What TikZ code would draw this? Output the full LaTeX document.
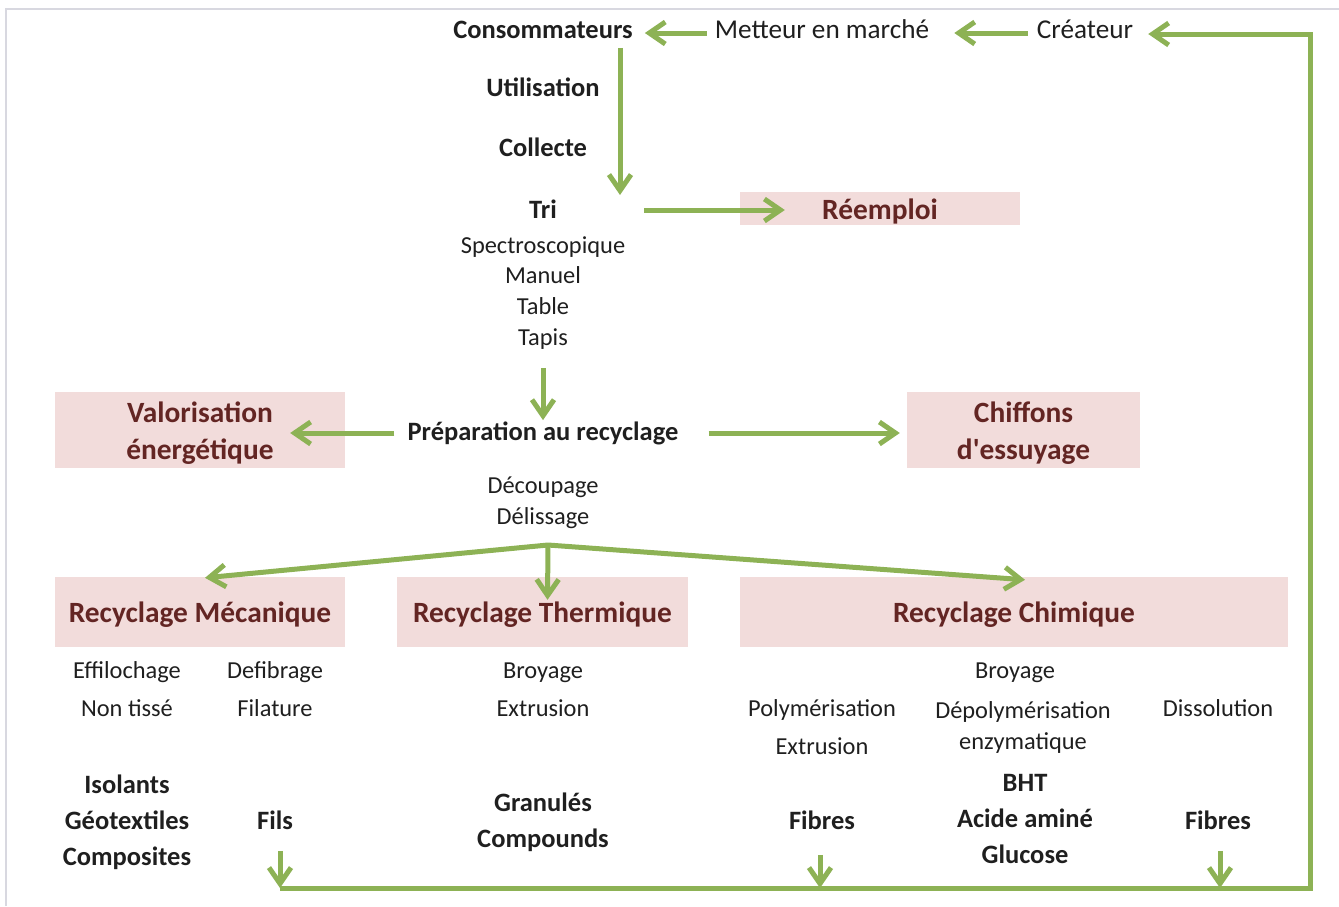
\documentclass[tikz,border=0pt]{standalone}
\usepackage{fontspec}
\setmainfont{Carlito}
\usetikzlibrary{positioning,arrows.meta}

\definecolor{arrowgreen}{HTML}{8DB255}
\definecolor{boxpink}{HTML}{F2DCDB}
\definecolor{boxtext}{HTML}{632523}
\definecolor{frameline}{HTML}{D8D8E0}

\newcommand{\boxline}[1]{\raisebox{-3pt}[\height][\depth]{#1}}

\begin{document}
\begin{tikzpicture}[x=1pt, y=-1pt,
                    stepnode/.style={font=\fontsize{26.5}{30}\selectfont\bfseries, text=black!88, inner sep=0pt, text height=0.72em, text depth=0.22em, yshift=-6},
                    actornode/.style={font=\fontsize{27.2}{30}\selectfont, text=black!88, inner sep=0pt, text height=0.72em, text depth=0.22em, yshift=-6},
                    detailnode/.style={font=\fontsize{24.4}{30}\selectfont, text=black!88, inner sep=0pt, text height=0.72em, text depth=0.22em, yshift=-6},
                    boxnode/.style={fill=boxpink, text=boxtext, font=\fontsize{29.4}{37}\selectfont\bfseries, align=center, inner sep=0pt},
                    flow/.style={draw=arrowgreen, line width=5pt, -{Straight Barb[length=16pt, width=22pt]}},
                ]
                    \useasboundingbox (0,0) rectangle (1339,906);
                    \draw[frameline, line width=2pt] (6,906) -- (6,9) -- (1339,9);

                    %Nodes
                    \node[stepnode](conso) at (543,30) {Consommateurs};
                    \node[actornode](metteur) at (822,30) {Metteur en marché};
                    \node[actornode](createur) at (1085,30) {Créateur};
                    \node[stepnode](utilisation) at (543,88) {Utilisation};
                    \node[stepnode](collecte) at (543,148) {Collecte};
                    \node[stepnode](tri) at (543,210) {Tri};
                    \node[detailnode](spectro) at (543,245) {Spectroscopique};
                    \node[detailnode](manuel) at (543,275) {Manuel};
                    \node[detailnode](table) at (543,306) {Table};
                    \node[detailnode](tapis) at (543,337) {Tapis};
                    \node[stepnode](prep) at (543,432) {Préparation au recyclage};
                    \node[detailnode](decoupage) at (543,485) {Découpage};
                    \node[detailnode](delissage) at (543,516) {Délissage};

                    \node[boxnode, minimum width=280, minimum height=33](reemploi) at (880,208.5) {\boxline{Réemploi}};
                    \node[boxnode, minimum width=290, minimum height=76](valo) at (200,430) {\boxline{Valorisation}\\\boxline{énergétique}};
                    \node[boxnode, minimum width=233, minimum height=76](chiffons) at (1023.5,430) {\boxline{Chiffons}\\\boxline{d\textquotesingle essuyage}};
                    \node[boxnode, minimum width=290, minimum height=70](meca) at (200,612) {\boxline{Recyclage Mécanique}};
                    \node[boxnode, minimum width=291, minimum height=70](thermo) at (542.5,612) {\boxline{Recyclage Thermique}};
                    \node[boxnode, minimum width=548, minimum height=70](chimique) at (1014,612) {\boxline{Recyclage Chimique}};

                    \node[detailnode](effilochage) at (127,670) {Effilochage};
                    \node[detailnode](defibrage) at (275,670) {Defibrage};
                    \node[detailnode](nontisse) at (127,708) {Non tissé};
                    \node[detailnode](filature) at (275,708) {Filature};
                    \node[detailnode](broyagea) at (543,670) {Broyage};
                    \node[detailnode](extrusiona) at (543,708) {Extrusion};
                    \node[detailnode](broyageb) at (1015,670) {Broyage};
                    \node[detailnode](polym) at (822,708) {Polymérisation};
                    \node[detailnode](extrusionb) at (822,746) {Extrusion};
                    \node[detailnode](depolym) at (1023,710) {Dépolymérisation};
                    \node[detailnode](enzym) at (1023,741) {enzymatique};
                    \node[detailnode](dissolution) at (1218,708) {Dissolution};

                    \node[stepnode](isolants) at (127,785) {Isolants};
                    \node[stepnode](geotextiles) at (127,821) {Géotextiles};
                    \node[stepnode](composites) at (127,857) {Composites};
                    \node[stepnode](fils) at (275,821) {Fils};
                    \node[stepnode](granules) at (543,803) {Granulés};
                    \node[stepnode](compounds) at (543,839) {Compounds};
                    \node[stepnode](fibresa) at (822,821) {Fibres};
                    \node[stepnode](bht) at (1025,783) {BHT};
                    \node[stepnode](acide) at (1025,819) {Acide aminé};
                    \node[stepnode](glucose) at (1025,855) {Glucose};
                    \node[stepnode](fibresb) at (1218,821) {Fibres};

                    \coordinate (tridown) at (620,195);
                    \coordinate (branch) at (548,545);
                    \coordinate (loopleft) at (280,888);
                    \coordinate (loopright) at (1310,888);

                    %Lines
                    \draw[flow]([xshift=-8,yshift=3]metteur.west) -- ([xshift=12,yshift=3]conso.east);
                    \draw[flow]([xshift=-9,yshift=3]createur.west) -- ([xshift=25,yshift=3]metteur.east);
                    \draw[flow]([yshift=-7]conso.south -| tridown) -- (tridown);
                    \draw[flow]([xshift=87,yshift=6]tri.east) -- ([xshift=45,yshift=-1.5]reemploi.west);
                    \draw[flow]([yshift=-20]tapis.south) -- ([yshift=13]prep.north);
                    \draw[flow]([xshift=-13,yshift=5]prep.west) -- ([xshift=-55,yshift=-3]valo.east);
                    \draw[flow]([xshift=30,yshift=5]prep.east) -- ([xshift=-7,yshift=-3]chiffons.west);
                    \draw[flow](branch) -- ([xshift=5,yshift=-1]meca.north);
                    \draw[flow](branch) -- ([xshift=5,yshift=-23]thermo.north);
                    \draw[flow](branch) -- ([xshift=11,yshift=-3]chimique.north);
                    \draw[flow]([xshift=5,yshift=-19]fils.south) -- ([xshift=5]fils.south |- loopleft);
                    \draw[flow]([xshift=-2,yshift=-23]fibresa.south) -- ([xshift=-2]fibresa.south |- loopleft);
                    \draw[flow]([xshift=2,yshift=-19]fibresb.south) -- ([xshift=2]fibresb.south |- loopleft);
                    \draw[flow](loopleft) -- (loopright) |- ([xshift=15,yshift=2]createur.east);
                \end{tikzpicture}
\end{document}
